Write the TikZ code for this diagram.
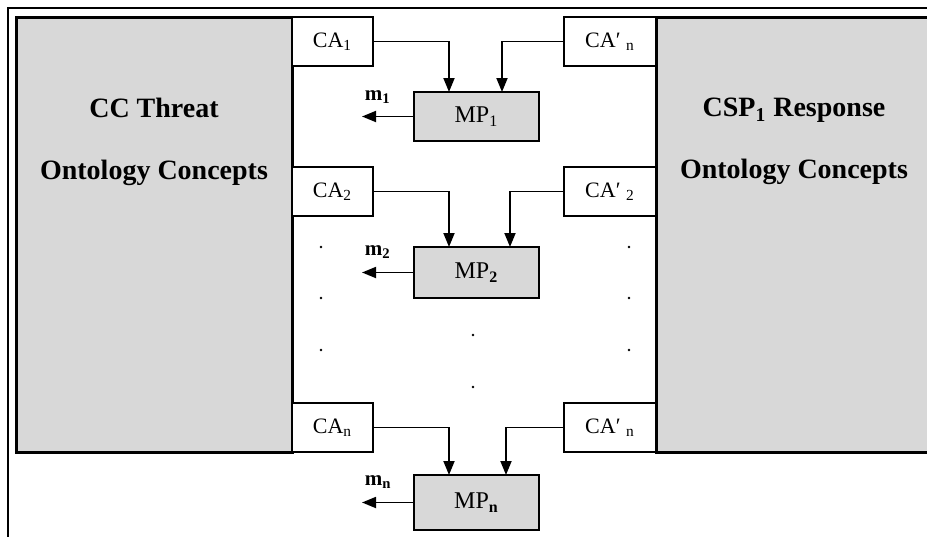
\documentclass[tikz,border=0pt]{standalone}
\usepackage{fontspec}
\setmainfont{Liberation Serif}
\usetikzlibrary{positioning,arrows.meta}
\definecolor{ontoc}{RGB}{216,216,216}
\tikzset{
  onto/.style     = {draw=black, line width=1.5pt, fill=ontoc, outer sep=0pt, inner sep=0pt,
                     minimum width=138pt, minimum height=217.5pt},
  ontotxt/.style  = {font=\fontsize{14}{31}\selectfont\bfseries, align=center, inner sep=0pt},
  cabox/.style    = {draw=black, line width=0.6pt, fill=white, outer sep=0pt, inner sep=0pt,
                     minimum width=40.5pt, minimum height=24.5pt, font=\fontsize{11}{13}\selectfont},
  cpbox/.style    = {cabox, minimum width=46pt},
  mpbox/.style    = {draw=black, line width=0.8pt, fill=ontoc, outer sep=0pt, inner sep=0pt,
                     minimum width=62.5pt, minimum height=24.5pt, font=\fontsize{12}{14}\selectfont},
  flow/.style     = {-{Triangle[length=7pt,width=5.5pt]}, line width=0.9pt},
  mlbl/.style     = {font=\fontsize{10.5}{12}\selectfont\bfseries, inner sep=1pt, anchor=south west},
  dotmark/.style  = {circle, fill=black, inner sep=0pt, minimum size=1.3pt},
}

\begin{document}
\begin{tikzpicture}[x=0.5pt, y=-0.5pt]
\useasboundingbox (0,0) rectangle (927,536);
\clip (0,0) rectangle (927,536);

% ---- frame ----
\draw[line width=0.7pt] (8,8) rectangle (940,545);

% ---- the two ontologies ----
\node[onto] (threat) at (154,234.5) {};
\node[onto] (resp) at (794,234.5) {};
\node[ontotxt, anchor=north] (threattxt) at (154,98) {CC Threat\\Ontology Concepts};
\node[ontotxt, anchor=north] (resptxt) at (794,98) {CSP\textsubscript{1} Response\\Ontology Concepts};

% ---- left: concept attributes ----
\node[cabox, below right=0pt and 0pt of threat.north east] (ca1) {CA\textsubscript{1}};
\node[cabox, below=50.5pt of ca1] (ca2) {CA\textsubscript{2}};
\node[cabox, above right=0pt and 0pt of threat.south east] (can) {CA\textsubscript{n}};

% ---- right: concept attributes ----
\node[cpbox, below left=0pt and 0pt of resp.north west] (cpa) {CA′~\textsubscript{n}};
\node[cpbox, below=50.5pt of cpa] (cp2) {CA′~\textsubscript{2}};
\node[cpbox, above left=0pt and 0pt of resp.south west] (cpn) {CA′~\textsubscript{n}};

% ---- matching processes ----
\node[mpbox, below right=13pt and 20.5pt of ca1.south east] (mp1) {MP\textsubscript{1}};
\node[mpbox, minimum height=25.5pt, below right=15.5pt and 20.5pt of ca2.south east] (mp2) {MP\textsubscript{\textbf{2}}};
\node[mpbox, minimum height=27.5pt, below right=11.5pt and 20.5pt of can.south east] (mpn) {MP\textsubscript{\textbf{n}}};

\draw[flow] (ca1.east) -| ([xshift=-13.75pt]mp1.north);
\draw[flow] (cpa.west) -| ([xshift=12.75pt]mp1.north);
\draw[flow] (ca2.east) -| ([xshift=-13.75pt]mp2.north);
\draw[flow] (cp2.west) -| ([xshift=16.75pt]mp2.north);
\draw[flow] (can.east) -| ([xshift=-13.75pt]mpn.north);
\draw[flow] (cpn.west) -| ([xshift=14.75pt]mpn.north);

% ---- mappings out ----
\coordinate[left=26pt of mp1.west] (m1end);
\coordinate[left=26pt of mp2.west] (m2end);
\coordinate[left=26pt of mpn.west] (mnend);
\draw[flow] (mp1.west) -- (m1end) node[mlbl, yshift=5pt] {m\textsubscript{1}};
\draw[flow] (mp2.west) -- (m2end) node[mlbl, yshift=5.5pt] {m\textsubscript{2}};
\draw[flow] (mpn.west) -- (mnend) node[mlbl, yshift=5.5pt] {m\textsubscript{n}};

% ---- ellipsis dots ----
\foreach \y [count=\i] in {247,298,350} {
  \node[dotmark] (dl\i) at (321,\y) {};
  \node[dotmark] (dr\i) at (629,\y) {};
}
\node[dotmark] (dm1) at (473,335) {};
\node[dotmark] (dm2) at (473,387) {};

\end{tikzpicture}
\end{document}
